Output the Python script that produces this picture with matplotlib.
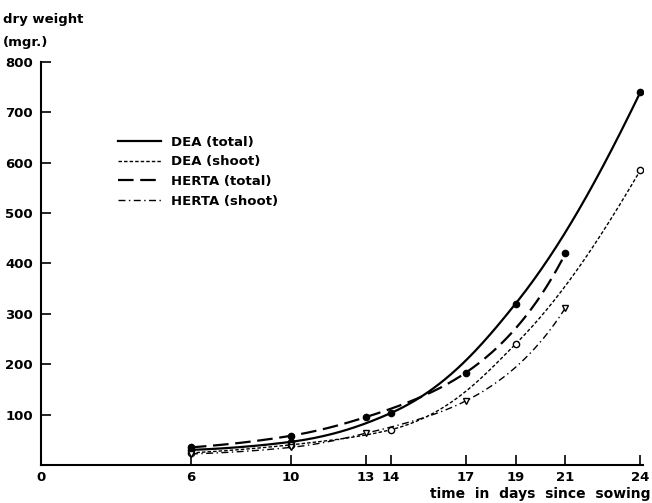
import numpy as np
import matplotlib
matplotlib.use("Agg")
import matplotlib.pyplot as plt

# Data
dea_days = [6, 10, 14, 19, 24]
dea_total = [30, 46, 103, 320, 740]
dea_shoot = [24, 40, 70, 240, 585]
herta_days = [6, 10, 13, 17, 21]
herta_total = [35, 58, 95, 183, 420]
herta_shoot = [22, 35, 63, 127, 312]
xticks = [6, 10, 13, 14, 17, 19, 21, 24]
yticks = [100, 200, 300, 400, 500, 600, 700, 800]

plt.rcParams['font.family'] = ['DejaVu Sans']
plt.rcParams['font.weight'] = 'bold'

fig = plt.figure(figsize=(6.52, 5.03), dpi=100)
ax = fig.add_axes([0.063, 0.0755, 0.923, 0.8015])


def pchip(x, y, xs):
    x = np.asarray(x, float)
    y = np.asarray(y, float)
    n = len(x)
    h = np.diff(x)
    delta = np.diff(y) / h
    d = np.zeros(n)
    for k in range(1, n - 1):
        if delta[k - 1] * delta[k] > 0:
            w1 = 2 * h[k] + h[k - 1]
            w2 = h[k] + 2 * h[k - 1]
            d[k] = (w1 + w2) / (w1 / delta[k - 1] + w2 / delta[k])
    d0 = ((2 * h[0] + h[1]) * delta[0] - h[0] * delta[1]) / (h[0] + h[1])
    if np.sign(d0) != np.sign(delta[0]):
        d0 = 0
    d[0] = d0
    dn = ((2 * h[-1] + h[-2]) * delta[-1] - h[-1] * delta[-2]) / (h[-1] + h[-2])
    if np.sign(dn) != np.sign(delta[-1]):
        dn = 0
    d[-1] = dn
    idx = np.clip(np.searchsorted(x, xs) - 1, 0, n - 2)
    t = (xs - x[idx]) / h[idx]
    h00 = 2 * t**3 - 3 * t**2 + 1
    h10 = t**3 - 2 * t**2 + t
    h01 = -2 * t**3 + 3 * t**2
    h11 = t**3 - t**2
    return h00 * y[idx] + h10 * h[idx] * d[idx] + h01 * y[idx + 1] + h11 * h[idx] * d[idx + 1]


def smooth(days, vals):
    xs = np.linspace(days[0], days[-1], 300)
    return xs, np.exp(pchip(days, np.log(vals), xs))


series = [
    (dea_days, dea_total, dict(ls='-', lw=1.6), dict(marker='o', mfc='black', ms=4.5), 'DEA (total)'),
    (dea_days, dea_shoot, dict(ls=(0, (2.5, 1.5)), lw=1.0), dict(marker='o', mfc='white', ms=4.5), 'DEA (shoot)'),
    (herta_days, herta_total, dict(ls=(0, (7, 3)), lw=1.6), dict(marker='o', mfc='black', ms=4.5), 'HERTA (total)'),
    (herta_days, herta_shoot, dict(ls=(0, (5, 2.5, 1, 2.5)), lw=1.0), dict(marker='v', mfc='white', ms=5), 'HERTA (shoot)'),
]

handles = []
for days, vals, lst, mst, lab in series:
    xs, ys = smooth(days, vals)
    h, = ax.plot(xs, ys, color='black', label=lab, **lst)
    ax.plot(days, vals, ls='none', color='black', mec='black', mew=1.0, **mst)
    handles.append(h)

ax.set_xlim(0, 24.1)
ax.set_ylim(0, 800)
ax.spines['top'].set_visible(False)
ax.spines['right'].set_visible(False)
ax.spines['left'].set_linewidth(1.5)
ax.spines['bottom'].set_linewidth(1.5)
ax.set_xticks([0] + xticks)
ax.set_xticklabels(['0'] + [str(t) for t in xticks])
ax.set_yticks(yticks)
ax.set_yticklabels([str(t) for t in yticks])
ax.tick_params(axis='x', direction='in', length=7, width=1.2, labelsize=9.5, pad=4)
ax.tick_params(axis='y', direction='in', length=7, width=1.2, labelsize=9.5, pad=6)
ax.xaxis.get_major_ticks()[0].tick1line.set_visible(False)

leg = ax.legend(handles=handles, loc='upper left', bbox_to_anchor=(0.108, 0.846),
                frameon=False, fontsize=9.5, handlelength=3.3, handletextpad=0.75,
                labelspacing=0.5)

fig.text(0.005, 0.962, 'dry weight', fontsize=9.5, fontweight='bold', ha='left', va='center')
fig.text(0.005, 0.916, '(mgr.)', fontsize=9.5, fontweight='bold', ha='left', va='center')
fig.text(0.997, 0.003, 'time  in  days  since  sowing', fontsize=10, fontweight='bold',
         ha='right', va='bottom')

fig.savefig('out.png', dpi=100)
